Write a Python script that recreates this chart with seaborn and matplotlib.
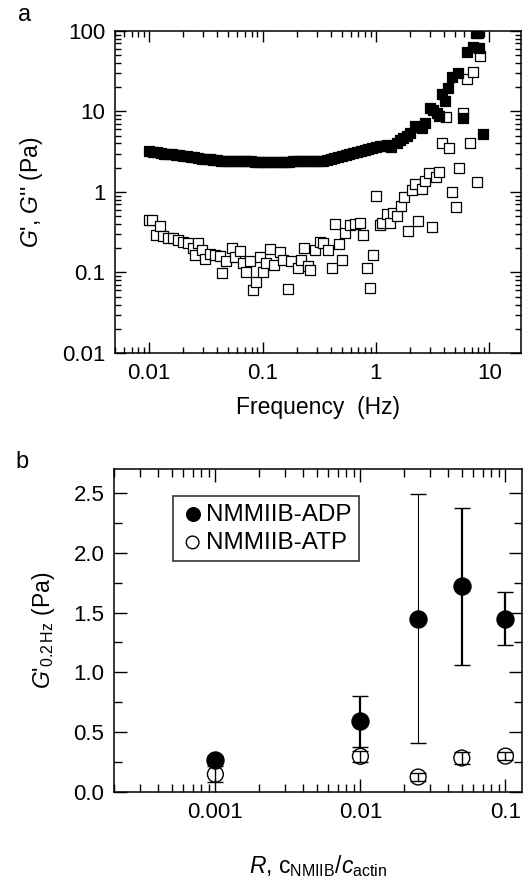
import numpy as np
import pandas as pd
import matplotlib
matplotlib.use("Agg")
import matplotlib.pyplot as plt
import matplotlib.ticker as mticker
import seaborn as sns

# ---------------- data: panel a ----------------
freq_storage = [0.0100, 0.0108, 0.0117, 0.0126, 0.0136, 0.0147, 0.0158, 0.0171, 0.0185, 0.0200,
                0.0216, 0.0233, 0.0251, 0.0271, 0.0293, 0.0316, 0.0341, 0.0369, 0.0398, 0.0430,
                0.0464, 0.0501, 0.0541, 0.0584, 0.0631, 0.0681, 0.0736, 0.0794, 0.0858, 0.0926,
                0.100, 0.108, 0.117, 0.126, 0.136, 0.147, 0.158, 0.171, 0.185, 0.200,
                0.216, 0.233, 0.251, 0.271, 0.293, 0.316, 0.341, 0.369, 0.398, 0.430,
                0.464, 0.501, 0.541, 0.584, 0.631, 0.681, 0.736, 0.794, 0.858, 0.926,
                1.00, 1.08, 1.16, 1.25, 1.37, 1.52, 1.63, 1.74, 1.86, 1.99,
                2.20, 2.36, 2.53, 2.70, 3.00, 3.20, 3.42, 3.60, 3.80, 4.05,
                4.30, 4.65, 5.30, 5.80, 6.30, 7.10, 7.60, 7.90, 8.10, 8.80]
g_storage = [3.20, 3.15, 3.10, 3.05, 3.00, 2.95, 2.92, 2.88, 2.85, 2.80,
             2.76, 2.72, 2.68, 2.64, 2.60, 2.57, 2.54, 2.50, 2.47, 2.45,
             2.43, 2.42, 2.41, 2.40, 2.40, 2.40, 2.39, 2.39, 2.38, 2.38,
             2.38, 2.37, 2.37, 2.37, 2.37, 2.38, 2.38, 2.38, 2.39, 2.40,
             2.41, 2.42, 2.42, 2.41, 2.40, 2.42, 2.45, 2.50, 2.56, 2.62,
             2.70, 2.78, 2.86, 2.95, 3.02, 3.12, 3.22, 3.30, 3.38, 3.48,
             3.58, 3.70, 3.75, 3.85, 3.60, 4.10, 4.40, 4.70, 5.00, 5.40,
             6.60, 6.40, 6.30, 7.10, 11.0, 10.5, 9.6, 8.7, 16.6, 13.4,
             19.5, 27.0, 30.0, 8.2, 55.0, 63.0, 93.0, 95.0, 61.0, 5.3]

freq_loss = [0.0100, 0.0106, 0.0115, 0.0125, 0.0133, 0.0148, 0.0164, 0.0181, 0.0200, 0.0218,
             0.0245, 0.0255, 0.0270, 0.0290, 0.0310, 0.0345, 0.0380, 0.0420, 0.0437, 0.0480,
             0.0540, 0.0570, 0.0630, 0.0670, 0.0720, 0.0780, 0.0820, 0.0880, 0.0950, 0.100,
             0.107, 0.116, 0.125, 0.143, 0.153, 0.167, 0.180, 0.205, 0.217, 0.232,
             0.250, 0.262, 0.290, 0.320, 0.340, 0.380, 0.410, 0.435, 0.475, 0.500,
             0.530, 0.590, 0.650, 0.720, 0.770, 0.830, 0.885, 0.950, 1.00, 1.08,
             1.12, 1.26, 1.33, 1.42, 1.54, 1.65, 1.78, 1.90, 2.06, 2.20,
             2.36, 2.53, 2.70, 2.93, 3.10, 3.40, 3.60, 3.80, 4.14, 4.40,
             4.70, 5.06, 5.40, 5.90, 6.30, 6.70, 7.20, 7.70, 8.25]
g_loss = [0.45, 0.45, 0.29, 0.38, 0.28, 0.27, 0.27, 0.25, 0.24, 0.23,
          0.20, 0.165, 0.23, 0.19, 0.148, 0.17, 0.165, 0.16, 0.098, 0.14,
          0.20, 0.157, 0.187, 0.13, 0.10, 0.14, 0.06, 0.077, 0.157, 0.10,
          0.13, 0.194, 0.124, 0.18, 0.143, 0.062, 0.137, 0.113, 0.143, 0.20,
          0.12, 0.107, 0.19, 0.24, 0.23, 0.19, 0.113, 0.40, 0.226, 0.143,
          0.31, 0.39, 0.40, 0.41, 0.29, 0.113, 0.064, 0.165, 0.89, 0.39,
          0.41, 0.54, 0.41, 0.55, 0.50, 0.67, 0.87, 0.33, 1.06, 1.27,
          0.44, 1.10, 1.35, 1.70, 0.37, 1.52, 1.75, 4.0, 8.6, 3.5,
          1.0, 0.65, 1.97, 9.7, 25.0, 4.0, 31.0, 1.34, 49.0]

# ---------------- data: panel b ----------------
ratio = [0.001, 0.01, 0.025, 0.05, 0.1]
adp_mean = [0.27, 0.59, 1.45, 1.72, 1.45]
adp_err = [0.03, 0.21, 1.04, 0.655, 0.22]
atp_mean = [0.148, 0.298, 0.125, 0.284, 0.30]
atp_err = [0.066, 0.048, 0.035, 0.05, 0.035]
legend_labels = ["NMMIIB-ADP", "NMMIIB-ATP"]

df_s = pd.DataFrame({"f": freq_storage, "G": g_storage})
df_l = pd.DataFrame({"f": freq_loss, "G": g_loss})
df_adp = pd.DataFrame({"R": ratio, "G": adp_mean, "err": adp_err})
df_atp = pd.DataFrame({"R": ratio, "G": atp_mean, "err": atp_err})

sns.set_style("ticks")
plt.rcParams["font.family"] = ["Liberation Sans", "DejaVu Sans"]
plt.rcParams["mathtext.fontset"] = "custom"
plt.rcParams["mathtext.rm"] = "Liberation Sans"
plt.rcParams["mathtext.it"] = "Liberation Sans:italic"
plt.rcParams["axes.linewidth"] = 1.1
plt.rcParams["text.color"] = "black"
plt.rcParams["axes.labelcolor"] = "black"
plt.rcParams["xtick.color"] = "black"
plt.rcParams["ytick.color"] = "black"
plt.rcParams["axes.edgecolor"] = "black"

fig = plt.figure(figsize=(5.26, 8.84), dpi=100)
ax1 = fig.add_axes([0.2186, 0.6007, 0.7719, 0.3643])
ax2 = fig.add_axes([0.2167, 0.1041, 0.7757, 0.3654])

TICK_FS = 16
LABEL_FS = 16.5

# ---- panel a ----
sns.scatterplot(data=df_l, x="f", y="G", ax=ax1, marker="s", s=42,
                facecolor="white", edgecolor="black", linewidth=0.9, zorder=3)
sns.scatterplot(data=df_s, x="f", y="G", ax=ax1, marker="s", s=42,
                color="black", edgecolor="black", linewidth=0.9, zorder=4)
ax1.set_xscale("log")
ax1.set_yscale("log")
ax1.set_xlim(0.005, 19)
ax1.set_ylim(0.01, 100)
ax1.xaxis.set_major_locator(mticker.LogLocator(base=10, numticks=10))
ax1.yaxis.set_major_locator(mticker.LogLocator(base=10, numticks=10))
ax1.xaxis.set_minor_locator(mticker.LogLocator(base=10, subs=np.arange(2, 10), numticks=20))
ax1.yaxis.set_minor_locator(mticker.LogLocator(base=10, subs=np.arange(2, 10), numticks=20))
fmt = mticker.FuncFormatter(lambda v, p: f"{v:g}")
ax1.xaxis.set_major_formatter(fmt)
ax1.yaxis.set_major_formatter(fmt)
ax1.xaxis.set_minor_formatter(mticker.NullFormatter())
ax1.yaxis.set_minor_formatter(mticker.NullFormatter())
ax1.tick_params(which="both", direction="in", top=True, right=True, width=1.0,
                labelsize=TICK_FS, colors="black")
ax1.tick_params(which="major", length=8, pad=7)
ax1.tick_params(which="minor", length=4.5)
ax1.set_xlabel("Frequency  (Hz)", fontsize=LABEL_FS, labelpad=9)
ax1.set_ylabel("$G$', $G$'' (Pa)", fontsize=LABEL_FS, labelpad=12)

# ---- panel b ----
for i in range(len(ratio)):
    lw = 0.8 if ratio[i] in (0.001, 0.025) else 1.6
    ax2.errorbar(ratio[i], adp_mean[i], yerr=adp_err[i], fmt="none", ecolor="black",
                 elinewidth=lw, capsize=6, capthick=1.0, zorder=2)
ax2.errorbar(df_atp["R"], df_atp["G"], yerr=df_atp["err"], fmt="none", ecolor="black",
             elinewidth=1.0, capsize=6, capthick=1.0, zorder=2)
sns.scatterplot(data=df_adp, x="R", y="G", ax=ax2, marker="o", s=150, color="black",
                edgecolor="black", linewidth=1.0, zorder=4, label=legend_labels[0])
sns.scatterplot(data=df_atp, x="R", y="G", ax=ax2, marker="o", s=130, facecolor="none",
                edgecolor="black", linewidth=1.0, zorder=3, label=legend_labels[1])
ax2.set_xscale("log")
ax2.set_xlim(0.0002, 0.13)
ax2.set_ylim(0, 2.7)
ax2.xaxis.set_major_locator(mticker.FixedLocator([0.001, 0.01, 0.1]))
ax2.xaxis.set_major_formatter(mticker.FixedFormatter(["0.001", "0.01", "0.1"]))
ax2.xaxis.set_minor_locator(mticker.LogLocator(base=10, subs=np.arange(2, 10), numticks=20))
ax2.xaxis.set_minor_formatter(mticker.NullFormatter())
ax2.yaxis.set_major_locator(mticker.MultipleLocator(0.5))
ax2.yaxis.set_minor_locator(mticker.MultipleLocator(0.25))
ax2.yaxis.set_major_formatter(mticker.FormatStrFormatter("%.1f"))
ax2.tick_params(which="both", direction="in", top=True, right=True, width=1.0,
                labelsize=TICK_FS, colors="black")
ax2.tick_params(which="major", length=9.5, pad=7)
ax2.tick_params(which="minor", length=5.5)
ax2.set_xlabel("$R$, c$_{\\mathrm{NMIIB}}$/$c_{\\mathrm{actin}}$", fontsize=LABEL_FS, labelpad=22)
ax2.set_ylabel("$G$'$_{0.2\\,\\mathrm{Hz}}$ (Pa)", fontsize=LABEL_FS, labelpad=12)
leg = ax2.legend(loc="upper left", bbox_to_anchor=(0.145, 0.915), fontsize=17.5,
                 frameon=True, fancybox=False, edgecolor="black", handletextpad=0.05,
                 handlelength=1.0, borderpad=0.3, labelspacing=0.25, markerscale=0.8,
                 borderaxespad=0)
leg.get_frame().set_linewidth(1.2)

fig.text(25 / 526, 1 - 15 / 884, "a", fontsize=17, ha="center", va="center")
fig.text(22 / 526, 1 - 462 / 884, "b", fontsize=17, ha="center", va="center")

fig.savefig("out.png", dpi=100)
